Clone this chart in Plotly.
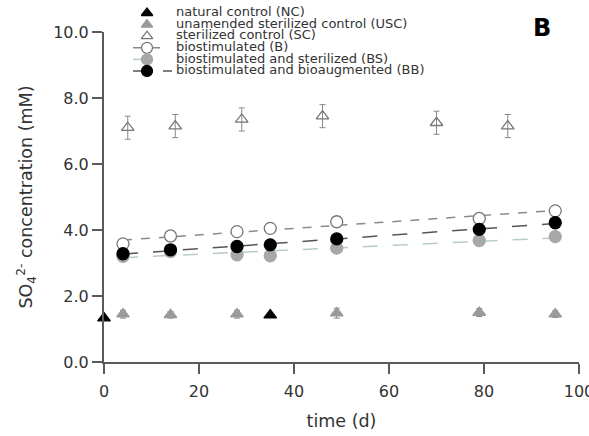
import numpy as np
import plotly.graph_objects as go

# ---- data ----
nc_x = [0, 35]
nc_y = [1.33, 1.42]

usc_x = [4, 14, 28, 49, 79, 95]
usc_y = [1.45, 1.43, 1.45, 1.48, 1.5, 1.45]
usc_err = [0.12, 0.1, 0.12, 0.15, 0.12, 0.1]

sc_x = [5, 15, 29, 46, 70, 85]
sc_y = [7.1, 7.15, 7.35, 7.45, 7.25, 7.15]
sc_err = [0.35, 0.35, 0.35, 0.35, 0.35, 0.35]

b_x = [4, 14, 28, 35, 49, 79, 95]
b_y = [3.58, 3.82, 3.95, 4.05, 4.25, 4.35, 4.58]
b_err = [0.1, 0.08, 0.08, 0.08, 0.1, 0.12, 0.15]

bs_x = [4, 14, 28, 35, 49, 79, 95]
bs_y = [3.2, 3.35, 3.25, 3.22, 3.45, 3.68, 3.8]
bs_err = [0.1, 0.08, 0.1, 0.1, 0.12, 0.12, 0.12]

bb_x = [4, 14, 28, 35, 49, 79, 95]
bb_y = [3.28, 3.4, 3.5, 3.55, 3.73, 4.02, 4.22]
bb_err = [0.12, 0.08, 0.08, 0.08, 0.1, 0.1, 0.12]

labels = ["natural control (NC)", "unamended sterilized control (USC)",
          "sterilized control (SC)", "biostimulated (B)",
          "biostimulated and sterilized (BS)",
          "biostimulated and bioaugmented (BB)"]
x_ticks = [0, 20, 40, 60, 80, 100]
y_ticks = [0, 2, 4, 6, 8, 10]

# ---- styles ----
TXT = "#333333"
AX = "#5a5a5a"
FONT = "DejaVu Sans, Liberation Sans, Arial, sans-serif"

styles = [
    dict(symbol="triangle-up", color="black", line_color="black", size=11, line=None),
    dict(symbol="triangle-up", color="#9a9a9a", line_color="#9a9a9a", size=11, line=None),
    dict(symbol="triangle-up-open", color="#777777", line_color="#777777", size=11, line=None),
    dict(symbol="circle", color="white", line_color="#777777", size=12,
         line=dict(color="#8a8a8a", dash="dash", width=1.5)),
    dict(symbol="circle", color="#a8a8a8", line_color="#a8a8a8", size=12,
         line=dict(color="#b5cdc6", dash="longdash", width=1.5)),
    dict(symbol="circle", color="black", line_color="black", size=12,
         line=dict(color="#555555", dash="longdash", width=1.5)),
]

fig = go.Figure()

def add_series(x, y, err, st):
    fig.add_trace(go.Scatter(
        x=x, y=y, mode="markers", cliponaxis=False, showlegend=False,
        error_y=None if err is None else dict(type="data", array=err, color="#888888",
                                              thickness=1, width=3),
        marker=dict(symbol=st["symbol"], size=st["size"], color=st["color"],
                    line=dict(color=st["line_color"], width=1.3)),
        xaxis="x", yaxis="y"))

def add_fit(x, y, st):
    k, c = np.polyfit(x, y, 1)
    xs = np.array([min(x), max(x)])
    fig.add_trace(go.Scatter(x=xs, y=k * xs + c, mode="lines", showlegend=False,
                             line=st["line"], xaxis="x", yaxis="y"))

# trend lines first (behind markers)
add_fit(b_x, b_y, styles[3])
add_fit(bs_x, bs_y, styles[4])
add_fit(bb_x, bb_y, styles[5])

add_series(sc_x, sc_y, sc_err, styles[2])
add_series(usc_x, usc_y, usc_err, styles[1])
add_series(nc_x, nc_y, None, styles[0])
add_series(b_x, b_y, b_err, styles[3])
add_series(bs_x, bs_y, bs_err, styles[4])
add_series(bb_x, bb_y, bb_err, styles[5])

# ---- custom compact legend on a pixel-scaled helper axis ----
row0, row_gap = 13, 11.6
mark_x, text_x = 43, 72
for i, (lab, st) in enumerate(zip(labels, styles)):
    ry = row0 + row_gap * i
    if st["line"] is not None:
        x_end = 68 if i == 5 else 58
        fig.add_trace(go.Scatter(x=[29, x_end], y=[ry, ry], mode="lines",
                                 line=st["line"], showlegend=False,
                                 xaxis="x2", yaxis="y2"))
    fig.add_trace(go.Scatter(
        x=[mark_x], y=[ry], mode="markers", showlegend=False, cliponaxis=False,
        marker=dict(symbol=st["symbol"], size=st["size"] - 1, color=st["color"],
                    line=dict(color=st["line_color"], width=1.3)),
        xaxis="x2", yaxis="y2"))
fig.add_trace(go.Scatter(
    x=[text_x] * len(labels), y=[row0 + row_gap * i for i in range(len(labels))],
    mode="text", text=labels, textposition="middle right", cliponaxis=False,
    textfont=dict(size=13, color=TXT, family=FONT), showlegend=False,
    xaxis="x2", yaxis="y2"))

fig.update_layout(
    width=589, height=436,
    margin=dict(l=104, r=10, t=0, b=74, autoexpand=False),
    plot_bgcolor="rgba(0,0,0,0)", paper_bgcolor="white",
    font=dict(family=FONT, color=TXT, size=16),
    xaxis=dict(domain=[0, 1], range=[0, 100], tickvals=x_ticks,
               ticks="outside", ticklen=10, tickwidth=2, tickcolor=AX,
               showline=True, linecolor=AX, linewidth=2, showgrid=False,
               zeroline=False, tickfont=dict(size=16, color=TXT),
               ticklabelstandoff=4,
               ticklabeloverflow="allow", automargin=False,
               title=dict(text="time (d)", font=dict(size=17.5, color=TXT), standoff=15),
               anchor="y"),
    yaxis=dict(domain=[0, 330 / 362], range=[0, 10], tickvals=y_ticks,
               tickformat=".1f", ticks="outside", ticklen=10, tickwidth=2,
               tickcolor=AX, showline=True, linecolor=AX, linewidth=2,
               showgrid=False, zeroline=False, tickfont=dict(size=16, color=TXT),
               automargin=False,
               title=dict(text="SO<sub>4</sub><sup>2-</sup> concentration (mM)",
                          font=dict(size=17.5, color=TXT), standoff=16),
               anchor="x"),
    xaxis2=dict(domain=[0, 1], range=[0, 475], visible=False, anchor="y2"),
    yaxis2=dict(domain=[0, 1], range=[362, 0], visible=False, anchor="x2"),
    annotations=[dict(text="<b>B</b>", xref="paper", yref="paper",
                      x=(542 - 104) / 475, y=(362 - 28) / 362, showarrow=False,
                      xanchor="center", yanchor="middle",
                      font=dict(size=24, color="black", family=FONT))],
)

fig.write_html("out.html", config={"displayModeBar": False},
               post_script="document.body.style.margin='0';")
